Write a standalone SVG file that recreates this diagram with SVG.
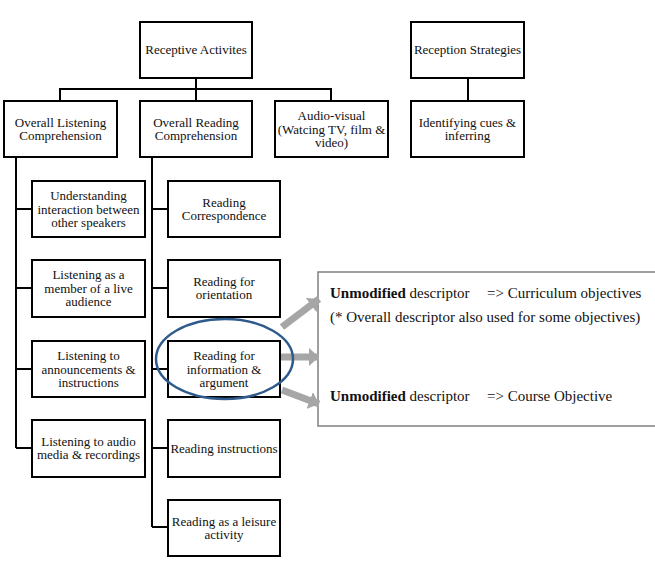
<svg xmlns="http://www.w3.org/2000/svg" width="655" height="563" viewBox="0 0 655 563">
<defs>
<style>
.box{fill:#fff;stroke:#000;stroke-width:2}
.t{font-family:'Liberation Serif','DejaVu Serif','Times New Roman',serif;font-size:13px;fill:#111;text-anchor:middle}
.conn{fill:none;stroke:#000;stroke-width:2}
.r{font-family:'Liberation Serif','DejaVu Serif','Times New Roman',serif;font-size:15px;fill:#111}
.arr{fill:none;stroke:#a6a6a6;stroke-width:7}
</style>
<marker id="ah" markerUnits="userSpaceOnUse" markerWidth="12" markerHeight="18" refX="10" refY="9" orient="auto">
<path d="M0,0 L10,9 L0,18 Z" fill="#a6a6a6"/>
</marker>
</defs>
<rect width="655" height="563" fill="#fff"/>
<g id="connectors">
<path class="conn" d="M196,78 V89 M60,101 V89 H331 V101 M196,89 V101"/>
<path class="conn" d="M468,78 V101"/>
<path class="conn" d="M16,157 V448 M16,209 H32 M16,288 H32 M16,369 H32 M16,448 H32"/>
<path class="conn" d="M152,157 V527 M152,209 H168 M152,288 H168 M152,369 H168 M152,448 H168 M152,527 H168"/>
</g>
<g id="receptive"><rect class="box" x="140" y="22" width="112" height="56"/><text class="t" x="196" y="54">Receptive Activites</text></g>
<g id="strategies"><rect class="box" x="411" y="22" width="113" height="56"/><text class="t" x="467.5" y="54">Reception Strategies</text></g>
<g id="listening"><rect class="box" x="4" y="101" width="113" height="56"/><text class="t" x="60.5" y="126.5">Overall Listening</text><text class="t" x="60.5" y="140">Comprehension</text></g>
<g id="reading"><rect class="box" x="140" y="101" width="112" height="56"/><text class="t" x="196" y="126.5">Overall Reading</text><text class="t" x="196" y="140">Comprehension</text></g>
<g id="audiovisual"><rect class="box" x="275" y="101" width="113" height="56"/><text class="t" x="331.5" y="120">Audio-visual</text><text class="t" x="331.5" y="133.5">(Watcing TV, film &amp;</text><text class="t" x="331.5" y="147">video)</text></g>
<g id="cues"><rect class="box" x="411" y="101" width="113" height="56"/><text class="t" x="467.5" y="126.5">Identifying cues &amp;</text><text class="t" x="467.5" y="140">inferring</text></g>

<g id="l1"><rect class="box" x="32" y="181" width="113" height="56"/><text class="t" x="88.5" y="200">Understanding</text><text class="t" x="88.5" y="213.5">interaction between</text><text class="t" x="88.5" y="227">other speakers</text></g>
<g id="l2"><rect class="box" x="32" y="260" width="113" height="57"/><text class="t" x="88.5" y="279">Listening as a</text><text class="t" x="88.5" y="292.5">member of a live</text><text class="t" x="88.5" y="306">audience</text></g>
<g id="l3"><rect class="box" x="32" y="341" width="113" height="56"/><text class="t" x="88.5" y="360">Listening to</text><text class="t" x="88.5" y="373.5">announcements &amp;</text><text class="t" x="88.5" y="387">instructions</text></g>
<g id="l4"><rect class="box" x="32" y="420" width="113" height="57"/><text class="t" x="88.5" y="445.5">Listening to audio</text><text class="t" x="88.5" y="459">media &amp; recordings</text></g>

<g id="r1"><rect class="box" x="168" y="181" width="112" height="56"/><text class="t" x="224" y="206.5">Reading</text><text class="t" x="224" y="220">Correspondence</text></g>
<g id="r2"><rect class="box" x="168" y="260" width="112" height="57"/><text class="t" x="224" y="285.5">Reading for</text><text class="t" x="224" y="299">orientation</text></g>
<g id="r3"><rect class="box" x="168" y="341" width="112" height="56"/><text class="t" x="224" y="360">Reading for</text><text class="t" x="224" y="373.5">information &amp;</text><text class="t" x="224" y="387">argument</text></g>
<g id="r4"><rect class="box" x="168" y="420" width="112" height="57"/><text class="t" x="224" y="453">Reading instructions</text></g>
<g id="r5"><rect class="box" x="168" y="500" width="112" height="56"/><text class="t" x="224" y="525.5">Reading as a leisure</text><text class="t" x="224" y="539">activity</text></g>

<g id="outcome">
<rect x="318" y="272" width="340" height="154" fill="#fff" stroke="#808080" stroke-width="1.5"/>
<text class="r" x="330" y="298"><tspan font-weight="bold">Unmodified</tspan> descriptor</text>
<text class="r" x="487" y="298">=&gt; Curriculum objectives</text>
<text class="r" x="330" y="322">(* Overall descriptor also used for some objectives)</text>
<text class="r" x="330" y="401"><tspan font-weight="bold">Unmodified</tspan> descriptor</text>
<text class="r" x="487" y="401">=&gt; Course Objective</text>
</g>
<g id="arrows">
<line class="arr" x1="282" y1="327" x2="319" y2="299" marker-end="url(#ah)"/>
<line class="arr" x1="281" y1="357" x2="319" y2="357" marker-end="url(#ah)"/>
<line class="arr" x1="282" y1="390" x2="319" y2="404" marker-end="url(#ah)"/>
</g>
<ellipse id="highlight" cx="224.5" cy="359" rx="68.5" ry="40" fill="none" stroke="#2f5b8c" stroke-width="2.5"/>
</svg>
